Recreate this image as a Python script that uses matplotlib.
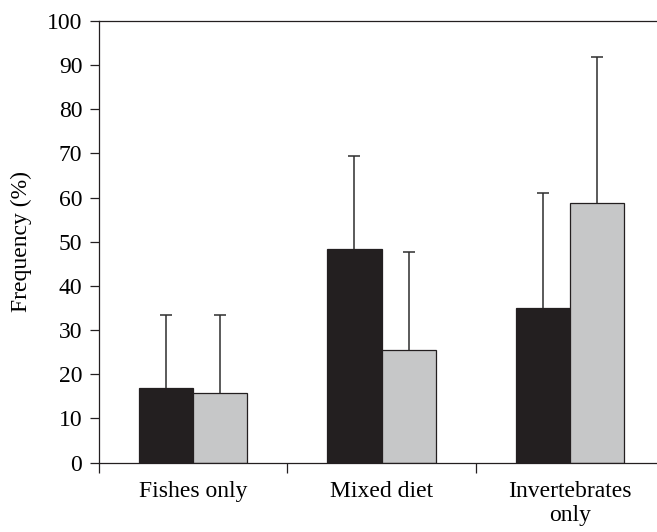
import matplotlib
matplotlib.use("Agg")
import matplotlib.pyplot as plt
import numpy as np

# Diet categories and frequencies (%) for the two groups
categories = ["Fishes only", "Mixed diet", "Invertebrates\nonly"]
group_a = [16.8, 48.3, 35.1]
group_a_err = [16.7, 21.2, 26.0]
group_b = [15.7, 25.4, 58.8]
group_b_err = [17.8, 22.2, 33.1]
y_ticks = [0, 10, 20, 30, 40, 50, 60, 70, 80, 90, 100]

plt.rcParams["font.family"] = ["Liberation Serif", "DejaVu Serif"]

ink = "#231f20"
dark_fill = "#231f20"
light_fill = "#c6c7c8"

fig = plt.figure(figsize=(6.57, 5.32), dpi=100)
ax = fig.add_axes([0.1507, 0.1306, 0.8493, 0.830])

x = np.arange(len(categories))
width = 0.287

ax.bar(x - width / 2, group_a, width, color=dark_fill,
       edgecolor=ink, linewidth=0.9, zorder=2)
ax.bar(x + width / 2, group_b, width, color=light_fill,
       edgecolor=ink, linewidth=0.9, zorder=2)

# Upper-only error bars with a single cap
for xs, vals, errs in [(x - width / 2, group_a, group_a_err),
                       (x + width / 2, group_b, group_b_err)]:
    _, caps, _ = ax.errorbar(xs, vals, yerr=[np.zeros(len(errs)), errs],
                             fmt="none", ecolor="#2e2e2e", elinewidth=1.1,
                             capsize=4, capthick=1.1, zorder=3)
    caps[0].set_visible(False)

ax.set_ylim(0, 100)
ax.set_xlim(-0.5, 2.5 - 7 / 188)
ax.set_yticks(y_ticks)
ax.tick_params(axis="y", direction="out", length=6.5, width=0.9,
               color=ink, labelsize=17, pad=5.5)

# Category separators as major ticks, names centred as minor ticks
ax.set_xticks([-0.5, 0.5, 1.5])
ax.set_xticklabels([])
ax.set_xticks(x, minor=True)
ax.set_xticklabels(categories, minor=True, fontsize=17, linespacing=1.2)
ax.tick_params(axis="x", which="major", direction="out", length=7,
               width=0.9, color=ink)
ax.tick_params(axis="x", which="minor", length=0, pad=13)

ax.spines["right"].set_visible(False)
for side in ["left", "bottom", "top"]:
    ax.spines[side].set_color(ink)
    ax.spines[side].set_linewidth(0.9)

ax.set_ylabel("Frequency (%)", fontsize=17, labelpad=11)

fig.savefig("out.png", dpi=100)
